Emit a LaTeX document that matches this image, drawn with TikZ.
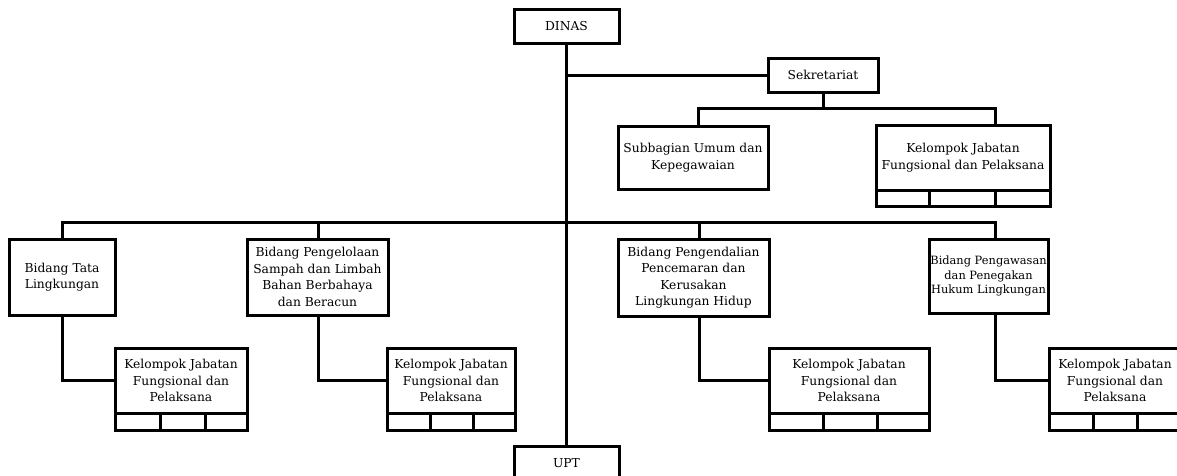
\documentclass[tikz,border=0pt]{standalone}
\usepackage{fontspec}
\setmainfont{DejaVu Serif}
\begin{document}
\begin{tikzpicture}[x=1pt,y=-1pt,
  conn/.style={line width=3pt, line join=miter},
  box/.style={draw, line width=3pt, inner sep=1pt, align=center,
    font=\fontsize{12.3}{16.5}\selectfont},
  small/.style={font=\fontsize{11.4}{14.5}\selectfont},
  cell/.style={draw, line width=3pt, inner sep=0pt, minimum height=17pt}]
\useasboundingbox (0,0) rectangle (1177,475);
\clip (0,0) rectangle (1177,475);
% top level
\node[box, minimum width=105pt, minimum height=34pt] (dinas) at (566.5,26) {DINAS};
\node[box, minimum width=105pt, minimum height=34pt] (upt) at (566.5,463) {UPT};
\node[box, minimum width=110pt, minimum height=34pt] (sek) at (823,75) {Sekretariat};
\node[box, minimum width=150pt, minimum height=63pt] (sub) at (693,157.5) {Subbagian Umum dan\\Kepegawaian};
% kelompok under sekretariat
\node[box, minimum width=174pt, minimum height=65pt] (ks) at (963,157.5) {Kelompok Jabatan\\Fungsional dan Pelaksana};
\node[cell, minimum width=53pt, minimum height=16pt] (ksa) at (902.5,198) {};
\node[cell, minimum width=66pt, minimum height=16pt] (ksb) at (962,198) {};
\node[cell, minimum width=55pt, minimum height=16pt] (ksc) at (1022.5,198) {};
% bidang
\node[box, minimum width=106pt, minimum height=76pt] (tata) at (62,277) {Bidang Tata\\Lingkungan};
\node[box, minimum width=141pt, minimum height=76pt] (pglo) at (317.5,277) {Bidang Pengelolaan\\Sampah dan Limbah\\Bahan Berbahaya\\dan Beracun};
\node[box, minimum width=151pt, minimum height=77pt] (pgnd) at (693.5,277.5) {Bidang Pengendalian\\Pencemaran dan\\Kerusakan\\Lingkungan Hidup};
\node[box, small, minimum width=119pt, minimum height=74pt] (pgws) at (988.5,276) {Bidang Pengawasan\\dan Penegakan\\Hukum Lingkungan};
% kelompok 1
\node[box, minimum width=132pt, minimum height=65pt] (k1) at (181,380.5) {Kelompok Jabatan\\Fungsional dan\\Pelaksana};
\node[cell, minimum width=45pt] (k1a) at (137.5,421.5) {};
\node[cell, minimum width=45pt] (k1b) at (182.5,421.5) {};
\node[cell, minimum width=42pt] (k1c) at (226,421.5) {};
% kelompok 2
\node[box, minimum width=128pt, minimum height=65pt] (k2) at (451,380.5) {Kelompok Jabatan\\Fungsional dan\\Pelaksana};
\node[cell, minimum width=43pt] (k2a) at (408.5,421.5) {};
\node[cell, minimum width=43pt] (k2b) at (451.5,421.5) {};
\node[cell, minimum width=42pt] (k2c) at (494,421.5) {};
% kelompok 3
\node[box, minimum width=160pt, minimum height=65pt] (k3) at (849,380.5) {Kelompok Jabatan\\Fungsional dan\\Pelaksana};
\node[cell, minimum width=54pt] (k3a) at (796,421.5) {};
\node[cell, minimum width=54pt] (k3b) at (850,421.5) {};
\node[cell, minimum width=52pt] (k3c) at (903,421.5) {};
% kelompok 4
\node[box, minimum width=132pt, minimum height=65pt] (k4) at (1115,380.5) {Kelompok Jabatan\\Fungsional dan\\Pelaksana};
\node[cell, minimum width=44pt] (k4a) at (1071,421.5) {};
\node[cell, minimum width=44pt] (k4b) at (1115,421.5) {};
\node[cell, minimum width=44pt] (k4c) at (1159,421.5) {};
% junction coordinates
\coordinate (jsek) at (566.5,75);
\coordinate (jsub) at (823,108);
\coordinate (xsub) at (698.5,0);
\coordinate (xks) at (995,0);
\coordinate (bus) at (566.5,222);
\coordinate (x1) at (62,0);
\coordinate (x2) at (318,0);
\coordinate (x3) at (699,0);
\coordinate (x4) at (995,0);
% connectors
\draw[conn] (dinas.south) -- (upt.north);
\draw[conn] (jsek) -- (sek.west);
\draw[conn] (sek.south) -- (jsub);
\draw[conn] (jsub) -| (sub.north -| xsub);
\draw[conn] (jsub) -| (ks.north -| xks);
\draw[conn] (bus) -| (tata.north -| x1);
\draw[conn] (bus) -| (pglo.north -| x2);
\draw[conn] (bus) -| (pgnd.north -| x3);
\draw[conn] (bus) -| (pgws.north -| x4);
\draw[conn] (tata.south -| x1) |- (k1.west);
\draw[conn] (pglo.south -| x2) |- (k2.west);
\draw[conn] (pgnd.south -| x3) |- (k3.west);
\draw[conn] (pgws.south -| x4) |- (k4.west);
\end{tikzpicture}
\end{document}
